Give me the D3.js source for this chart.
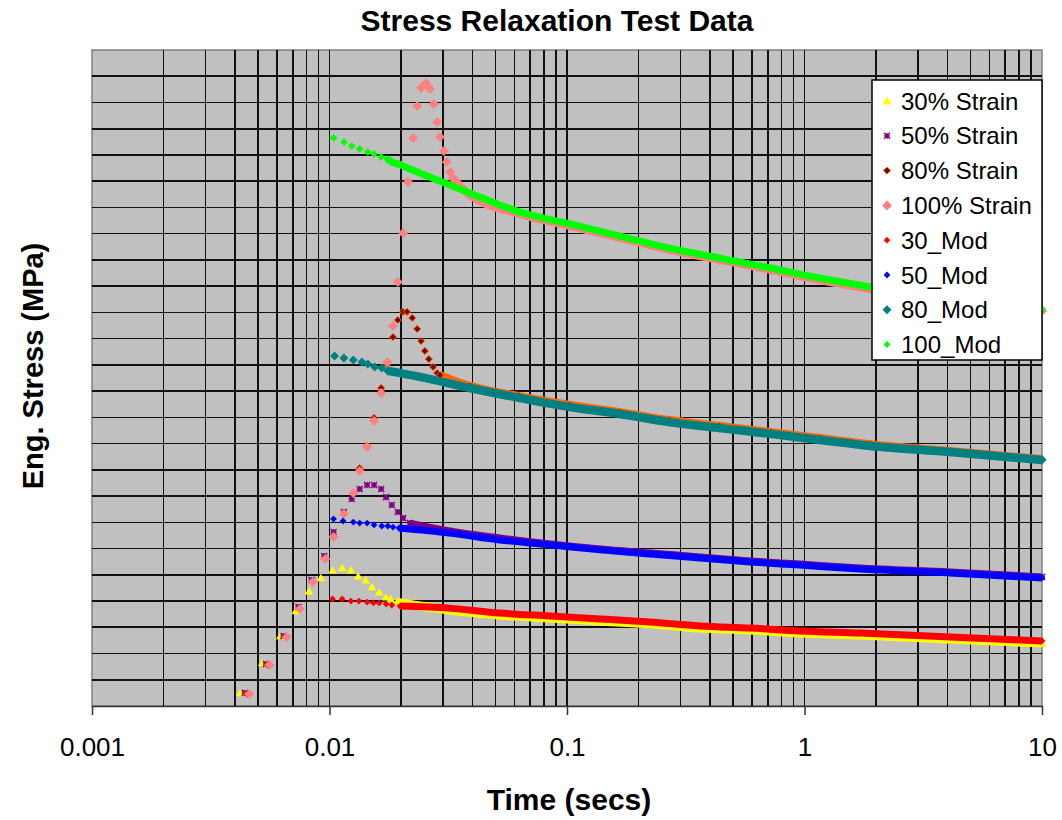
<!DOCTYPE html>
<html>
<head>
<meta charset="utf-8">
<script src="https://cdn.jsdelivr.net/npm/d3@7"></script>
<style>
  html, body { margin: 0; padding: 0; background: #fff; }
  svg { display: block; font-family: "Liberation Sans", Arial, sans-serif; }
</style>
</head>
<body>
<div id="chart"></div>
<script>
// [time (s), eng. stress (MPa)]
const strain30 = [
  [0.0042, 0.050], [0.0052, 0.164], [0.0062, 0.267], [0.0072, 0.362], [0.0082, 0.438],
  [0.0092, 0.488], [0.0103, 0.518], [0.0113, 0.526], [0.0123, 0.518], [0.0132, 0.495],
  [0.0142, 0.480], [0.0151, 0.454], [0.0162, 0.434], [0.0173, 0.415], [0.0181, 0.408],
  [0.0192, 0.396], [0.024, 0.381], [0.032, 0.366], [0.052, 0.347], [0.085, 0.335],
  [0.138, 0.324], [0.224, 0.313], [0.363, 0.297], [0.59, 0.290], [0.957, 0.278],
  [1.71, 0.271], [4.1, 0.255], [10, 0.240],
];
const strain50 = [
  [0.0044, 0.050], [0.0054, 0.160], [0.0064, 0.267], [0.0074, 0.377], [0.0084, 0.480],
  [0.0095, 0.572], [0.0104, 0.663], [0.0115, 0.739], [0.0124, 0.789], [0.0134, 0.827],
  [0.0144, 0.842], [0.0154, 0.842], [0.0165, 0.827], [0.0173, 0.796], [0.0183, 0.766],
  [0.0194, 0.739], [0.0204, 0.716], [0.0218, 0.697], [0.032, 0.667], [0.052, 0.640],
  [0.085, 0.617], [0.138, 0.598], [0.224, 0.583], [0.363, 0.568], [0.59, 0.553],
  [0.957, 0.541], [1.71, 0.526], [4.1, 0.511], [10, 0.492],
];
const strain80 = [
  [0.0045, 0.046], [0.0055, 0.156], [0.0066, 0.263], [0.0075, 0.370], [0.0085, 0.473],
  [0.0096, 0.560], [0.0104, 0.644], [0.0115, 0.732], [0.0126, 0.812], [0.0134, 0.907],
  [0.0144, 0.991], [0.0154, 1.098], [0.0165, 1.212], [0.0175, 1.303], [0.0185, 1.406],
  [0.0194, 1.471], [0.0204, 1.502], [0.0212, 1.502], [0.0223, 1.479], [0.0234, 1.437],
  [0.0243, 1.391], [0.0252, 1.353], [0.0262, 1.322], [0.0273, 1.292], [0.0284, 1.269],
  [0.0292, 1.261], [0.039, 1.220], [0.063, 1.181], [0.103, 1.147], [0.167, 1.120],
  [0.27, 1.090], [0.44, 1.067], [0.72, 1.044], [1.16, 1.021], [1.89, 0.998],
  [4.1, 0.972], [10, 0.941],
];
const strain100 = [
  [0.0046, 0.046], [0.0056, 0.156], [0.0066, 0.263], [0.0075, 0.370], [0.0085, 0.473],
  [0.0096, 0.560], [0.0104, 0.644], [0.0115, 0.732], [0.0126, 0.812], [0.0134, 0.896],
  [0.0144, 0.987], [0.0154, 1.086], [0.0165, 1.193], [0.0175, 1.311], [0.0185, 1.448],
  [0.0194, 1.616], [0.0204, 1.803], [0.0214, 1.997], [0.0225, 2.165], [0.0234, 2.287],
  [0.0243, 2.355], [0.0255, 2.374], [0.0265, 2.351], [0.0275, 2.294], [0.0284, 2.226],
  [0.0292, 2.168], [0.0303, 2.115], [0.0312, 2.073], [0.0322, 2.035], [0.0331, 2.012],
  [0.039, 1.947], [0.063, 1.875], [0.103, 1.829], [0.167, 1.784], [0.27, 1.738],
  [0.44, 1.700], [0.72, 1.662], [1.16, 1.623], [1.89, 1.589], [10, 1.505],
];
const mod30 = [
  [0.0103, 0.408], [0.0113, 0.408], [0.0123, 0.400], [0.0133, 0.400], [0.0144, 0.396],
  [0.0153, 0.393], [0.0162, 0.393], [0.0173, 0.389], [0.0183, 0.385], [0.0198, 0.381],
  [0.032, 0.373], [0.052, 0.354], [0.085, 0.343], [0.138, 0.332], [0.224, 0.320],
  [0.363, 0.305], [0.59, 0.297], [0.957, 0.286], [1.71, 0.278], [4.1, 0.263], [10, 0.248],
];
const mod50 = [
  [0.0104, 0.713], [0.0114, 0.705], [0.0126, 0.701], [0.0134, 0.697], [0.0144, 0.697],
  [0.0154, 0.690], [0.0166, 0.686], [0.0176, 0.686], [0.0185, 0.682], [0.0196, 0.678],
  [0.032, 0.659], [0.052, 0.633], [0.085, 0.614], [0.138, 0.595], [0.224, 0.579],
  [0.363, 0.564], [0.59, 0.549], [0.957, 0.537], [1.71, 0.522], [4.1, 0.507], [10, 0.488],
];
const mod80 = [
  [0.0105, 1.334], [0.0115, 1.326], [0.0126, 1.319], [0.0137, 1.311], [0.0145, 1.303],
  [0.0155, 1.292], [0.0166, 1.288], [0.0176, 1.277], [0.024, 1.254], [0.039, 1.212],
  [0.063, 1.174], [0.103, 1.139], [0.167, 1.113], [0.27, 1.082], [0.44, 1.059],
  [0.72, 1.037], [1.16, 1.014], [1.89, 0.991], [4.1, 0.968], [10, 0.9375],
];
const mod100 = [
  [0.0104, 2.165], [0.0115, 2.149], [0.0124, 2.134], [0.0134, 2.123], [0.0145, 2.111],
  [0.0154, 2.104], [0.0165, 2.092], [0.0175, 2.085], [0.0183, 2.073], [0.0194, 2.066],
  [0.0204, 2.058], [0.024, 2.031], [0.039, 1.955], [0.063, 1.883], [0.103, 1.837],
  [0.167, 1.791], [0.27, 1.745], [0.44, 1.707], [0.72, 1.669], [1.16, 1.631],
  [1.89, 1.597], [10, 1.513],
];

const seriesNames = ['30% Strain', '50% Strain', '80% Strain', '100% Strain', '30_Mod', '50_Mod', '80_Mod', '100_Mod'];
const xTickValues = [0.001, 0.01, 0.1, 1, 10];
const xTickLabels = ['0.001', '0.01', '0.1', '1', '10'];
const yDomain = [0, 2.5];

const W = 1062, H = 820;
const plot = { left: 92, right: 1042, top: 50, bottom: 706 };

// marker shapes, r = half width
const shapes = {
  triangle: (r) => `M0,${-r}L${r},${r * 0.8}L${-r},${r * 0.8}Z`,
  diamond: (r) => `M0,${-r}L${r},0L0,${r}L${-r},0Z`,
  star: (r) => `M${-r},${-r}L${r},${r}M${r},${-r}L${-r},${r}M0,${-r}L0,${r}M${-r},0L${r},0`,
};

const styles = [
  { data: strain30, fill: '#ffff00', stroke: 'none', shape: 'triangle', r: 4.2, band: 9, bandFrom: 0.019, lr: 4.5 },
  { data: strain50, fill: 'none', stroke: '#800080', shape: 'star', r: 3, band: 7, bandFrom: 0.0215, lr: 3 },
  { data: strain80, fill: '#800000', stroke: '#ff6600', shape: 'diamond', r: 3.6, band: 8, bandFrom: 0.029, lr: 3.6, bandColor: '#ff6600' },
  { data: strain100, fill: '#ff8080', stroke: 'none', shape: 'diamond', r: 5, band: 8, bandFrom: 0.033, lr: 5 },
  { data: mod30, fill: '#ff0000', stroke: 'none', shape: 'diamond', r: 3.4, band: 7, bandFrom: 0.0195, lr: 3.4 },
  { data: mod50, fill: '#0000ff', stroke: 'none', shape: 'diamond', r: 3.4, band: 7, bandFrom: 0.0195, lr: 3.4 },
  { data: mod80, fill: '#008080', stroke: 'none', shape: 'diamond', r: 4.5, band: 8.5, bandFrom: 0.0175, lr: 4.5 },
  { data: mod100, fill: '#00ff00', stroke: 'none', shape: 'diamond', r: 3.8, band: 7, bandFrom: 0.0175, lr: 3.5 },
];

const svg = d3.select('#chart').append('svg').attr('width', W).attr('height', H);

const x = d3.scaleLog().domain([xTickValues[0], xTickValues[xTickValues.length - 1]]).range([plot.left, plot.right]);
const y = d3.scaleLinear().domain(yDomain).range([plot.bottom, plot.top]);

// plot area
svg.append('rect')
  .attr('x', plot.left).attr('y', plot.top)
  .attr('width', plot.right - plot.left).attr('height', plot.bottom - plot.top)
  .attr('fill', '#c0c0c0')
  .attr('stroke', '#808080')
  .attr('stroke-width', 1.5);

// grid
const grid = svg.append('g').attr('stroke', '#111').attr('stroke-width', 1.6).attr('shape-rendering', 'crispEdges');
grid.selectAll('line.h')
  .data(y.ticks(25).filter((d) => d > 0 && d < yDomain[1]))
  .join('line')
  .attr('x1', plot.left).attr('x2', plot.right)
  .attr('y1', (d) => y(d)).attr('y2', (d) => y(d));
grid.selectAll('line.v')
  .data(x.ticks().filter((d) => x(d) > plot.left + 1 && x(d) < plot.right - 1))
  .join('line')
  .attr('y1', plot.top).attr('y2', plot.bottom)
  .attr('x1', (d) => x(d)).attr('x2', (d) => x(d));

// x axis
const xAxis = d3.axisBottom(x)
  .tickValues(xTickValues)
  .tickFormat((d, i) => xTickLabels[i])
  .tickSize(9)
  .tickSizeOuter(0)
  .tickPadding(23);
const gx = svg.append('g').attr('transform', `translate(0,${plot.bottom})`).call(xAxis);
gx.select('.domain').attr('stroke', '#333').attr('stroke-width', 1.5);
gx.selectAll('.tick line').attr('stroke', '#333').attr('stroke-width', 1.5);
gx.selectAll('.tick text')
  .attr('font-family', '"Liberation Sans", Arial, sans-serif')
  .attr('font-size', 26)
  .attr('fill', '#000');

// series: dense part as a thick band, then the markers
const line = d3.line().x((d) => x(d[0])).y((d) => y(d[1])).curve(d3.curveMonotoneX);
const series = svg.append('g');
styles.forEach((s) => {
  const g = series.append('g');
  const dense = s.data.filter((d) => d[0] >= s.bandFrom);
  g.append('path')
    .attr('d', line(dense))
    .attr('fill', 'none')
    .attr('stroke', s.bandColor || (s.fill !== 'none' ? s.fill : s.stroke))
    .attr('stroke-width', s.band)
    .attr('stroke-linejoin', 'round');
  g.selectAll('path.m')
    .data(s.data)
    .join('path')
    .attr('class', 'm')
    .attr('transform', (d) => `translate(${x(d[0])},${y(d[1])})`)
    .attr('d', shapes[s.shape](s.r))
    .attr('fill', s.fill)
    .attr('stroke', s.stroke)
    .attr('stroke-width', s.shape === 'star' ? 1.5 : 1);
});

// legend
const legend = svg.append('g').attr('transform', 'translate(872,80)');
legend.append('rect')
  .attr('width', 170).attr('height', 280)
  .attr('fill', '#fff').attr('stroke', '#000').attr('stroke-width', 1.5);
const item = legend.selectAll('g.item')
  .data(seriesNames)
  .join('g')
  .attr('class', 'item')
  .attr('transform', (d, i) => `translate(0,${21 + i * 34.8})`);
item.append('path')
  .attr('transform', 'translate(15,0)')
  .attr('d', (d, i) => shapes[styles[i].shape](styles[i].lr))
  .attr('fill', (d, i) => styles[i].fill)
  .attr('stroke', (d, i) => styles[i].stroke)
  .attr('stroke-width', (d, i) => (styles[i].shape === 'star' ? 1.3 : 1));
item.append('text')
  .attr('x', 29)
  .attr('y', 8.5)
  .attr('font-size', 24)
  .attr('fill', '#000')
  .text((d) => d);

// titles
svg.append('text')
  .attr('x', 557).attr('y', 31)
  .attr('text-anchor', 'middle')
  .attr('font-size', 30).attr('font-weight', 'bold')
  .text('Stress Relaxation Test Data');
svg.append('text')
  .attr('x', 569).attr('y', 810)
  .attr('text-anchor', 'middle')
  .attr('font-size', 30).attr('font-weight', 'bold')
  .text('Time (secs)');
svg.append('text')
  .attr('transform', 'translate(43,366) rotate(-90)')
  .attr('text-anchor', 'middle')
  .attr('font-size', 29).attr('font-weight', 'bold')
  .text('Eng. Stress (MPa)');
</script>
</body>
</html>
